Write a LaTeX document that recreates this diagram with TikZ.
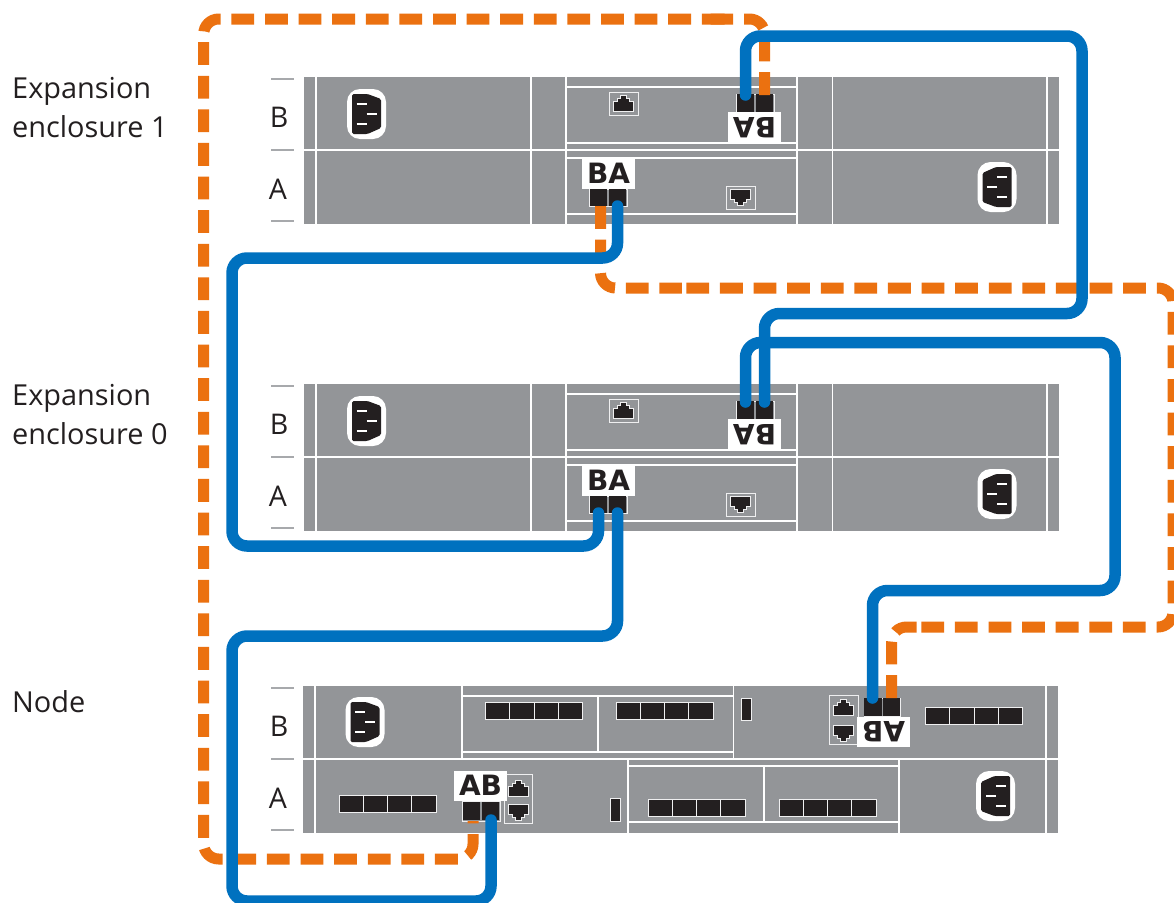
\documentclass[tikz,border=0pt]{standalone}
\usepackage{fontspec}
\setmainfont{Open Sans}
\newfontfamily\labfont{DejaVu Sans}[BoldFont={DejaVu Sans Bold}]
\definecolor{chassis}{HTML}{939598}
\definecolor{ink}{HTML}{231F20}
\definecolor{cableblue}{HTML}{0071BF}
\definecolor{cableorange}{HTML}{EB7110}
\definecolor{tickgray}{HTML}{A7A9AC}
\tikzset{
  x=1pt,y=-1pt,
  chassisbox/.style={fill=chassis,draw=none},
  frameline/.style={draw=white,line width=1.1pt},
  thinbox/.style={draw=white!85!chassis,line width=0.9pt},
  tickline/.style={draw=tickgray,line width=1.1pt},
  portcell/.style={fill=ink,draw=none,inner sep=0pt,minimum width=#1,minimum height=17.5pt},
  portcell/.default=17.5pt,
  tag/.style={fill=white,inner sep=0pt,minimum width=53pt,minimum height=30pt,text=ink,font=\labfont\bfseries\fontsize{28}{28}\selectfont},
  rowlabel/.style={text=ink,inner sep=0pt,font=\fontsize{28.5}{28.5}\selectfont},
  sidelabel/.style={text=ink,inner sep=0pt,align=left,anchor=west,font=\fontsize{28.9}{39}\selectfont},
  bluecable/.style={draw=cableblue,line width=11.5pt,rounded corners=15pt,line cap=round},
  orangecable/.style={draw=cableorange,line width=11pt,rounded corners=15pt,dash pattern=on 22.8pt off 10.8pt},
  plug/.pic={
    \fill[white,rounded corners=13pt] (-19.5,-25) rectangle (19.5,25);
    \fill[ink,rounded corners=1.5pt] (-14.5,-20) -- (1,-20) -- (14.5,-15) -- (14.5,14) -- (1,20) -- (-14.5,20) -- cycle;
    \draw[white,line width=2pt] (-10,-10) -- (0,-10) (0,0) -- (10,0) (-10,10) -- (0,10);
  },
  rjglyph/.pic={
    \draw[fill=ink,draw=white!85!chassis,line width=0.7pt] (-10,8) -- (-10,-2) -- (-6,-2) -- (-6,-5) -- (-3,-5) -- (-3,-8) -- (3,-8) -- (3,-5) -- (6,-5) -- (6,-2) -- (10,-2) -- (10,8) -- cycle;
  },
  rjsingle/.pic={
    \draw[thinbox] (-14.5,-11.5) rectangle (14.5,11.5);
    \pic[transform shape] {rjglyph};
  },
  quadport/.pic={
    \draw[draw=white!85!chassis,fill=ink,line width=1pt] (0,0) rectangle (97,17);
    \draw[draw=white!85!chassis,line width=1pt] (24.25,0) -- (24.25,17) (48.5,0) -- (48.5,17) (72.75,0) -- (72.75,17);
  },
}
% frame of an expansion enclosure; #1 = name prefix, #2 = vertical offset
\newcommand{\enclosure}[2]{%
\begin{scope}[shift={(0,#2)}]
  \fill[chassisbox] (303.5,77) rectangle (1059,224);
  \draw[frameline] (303.5,150) -- (1059,150)
    (316,77) -- (316,224) (531,77) -- (531,224) (566,77) -- (566,224)
    (797,77) -- (797,224) (832.5,77) -- (832.5,224) (1047,77) -- (1047,224)
    (566,87) -- (797,87) (566,143) -- (797,143) (566,158) -- (797,158) (566,214) -- (797,214);
  \draw[tickline] (271,79) -- (294,79) (271,150) -- (294,150) (271,221) -- (294,221);
  \node[rowlabel] (#1rowB) at (279,117) {B};
  \node[rowlabel] (#1rowA) at (278,189) {A};
  \pic at (366.5,114) {plug};
  \pic[rotate=180] at (997,187) {plug};
  \pic at (623.5,103.5) {rjsingle};
  \pic[rotate=180] at (740.5,197.5) {rjsingle};
  % upper module port pair
  \draw[thinbox] (736,94) rectangle (774,112);
  \node[portcell] (#1upL) at (745.5,103) {};
  \node[portcell] (#1upR) at (764.5,103) {};
  \node[tag,rotate=180] (#1upTag) at (754.5,127) {\raisebox{1pt}{BA}};
  % lower module port pair
  \draw[thinbox] (589,189) rectangle (627,206);
  \node[portcell] (#1loL) at (598.5,197.5) {};
  \node[portcell] (#1loR) at (617.5,197.5) {};
  \node[tag] (#1loTag) at (608.5,174) {\raisebox{1pt}{BA}};
  \coordinate (#1upLend) at (745.5,95);
  \coordinate (#1upRend) at (764.5,95);
  \coordinate (#1loLend) at (600.5,206);
  \coordinate (#1loLbl) at (598.5,206);
  \coordinate (#1loRend) at (617.5,206);
\end{scope}}
\begin{document}
\begin{tikzpicture}
\useasboundingbox (0,0) rectangle (1174,902);
\clip (0,0) rectangle (1174,902);
\fill[white] (0,0) rectangle (1174,902);
\enclosure{eone}{0}
\enclosure{ezero}{307}
% node enclosure
\fill[chassisbox] (303,686) rectangle (1058,833);
\draw[frameline] (303,759) -- (1058,759)
  (315,686) -- (315,833) (1046,686) -- (1046,833)
  (462,686) -- (462,759) (733.5,686) -- (733.5,759)
  (462,696) -- (733.5,696) (462,752) -- (733.5,752) (598,696) -- (598,752)
  (628,759) -- (628,833) (899,759) -- (899,833)
  (628,766) -- (899,766) (628,822) -- (899,822) (764,766) -- (764,822);
\draw[tickline] (271,688) -- (294,688) (271,759) -- (294,759) (271,830) -- (294,830);
\node[rowlabel] (nrowB) at (279,726) {B};
\node[rowlabel] (nrowA) at (278,798) {A};
\pic at (365,722) {plug};
\pic[rotate=180] at (995.5,796) {plug};
\pic at (485.5,702) {quadport};
\pic at (616,702) {quadport};
\pic at (925.5,707) {quadport};
\pic at (339,795) {quadport};
\pic at (648,799) {quadport};
\pic at (779,799) {quadport};
\draw[draw=white!85!chassis,fill=ink,line width=1pt] (741.5,698) rectangle (751.5,720.5);
\draw[draw=white!85!chassis,fill=ink,line width=1pt] (610,798.5) rectangle (620.5,821);
% double RJ45, upper module
\draw[thinbox] (829.5,695.5) rectangle (858,744);
\pic at (843.5,707.5) {rjglyph};
\pic[rotate=180] at (843.5,733) {rjglyph};
% double RJ45, lower module
\draw[thinbox] (504,774) rectangle (532.5,823);
\pic at (518,788) {rjglyph};
\pic[rotate=180] at (518,812) {rjglyph};
% node port pairs
\draw[thinbox] (864,698) rectangle (900.5,716);
\node[portcell] (nupL) at (873,707) {};
\node[portcell] (nupR) at (891.5,707) {};
\node[tag,rotate=180] (nupTag) at (883.5,731.5) {\raisebox{1pt}{AB}};
\draw[thinbox] (462.5,801) rectangle (500,821);
\node[portcell,minimum height=18pt] (nloL) at (471.5,811) {};
\node[portcell,minimum height=18pt] (nloR) at (490.5,811) {};
\node[tag] (nloTag) at (480.5,785.5) {\raisebox{1pt}{AB}};
\coordinate (nupLend) at (872.5,698);
\coordinate (nupRend) at (891.5,698);
\coordinate (nloLend) at (473,821);
\coordinate (nloRend) at (491,820);
% side labels
\node[sidelabel] (lab1) at (12,108) {Expansion\\enclosure 1};
\node[sidelabel] (lab0) at (12,415) {Expansion\\enclosure 0};
\node[sidelabel] (labn) at (12,702) {Node};
% orange cables (pieced as in the source, each with its own dash start)
\coordinate (topjoinA) at (710.5,19);
\coordinate (topjoinB) at (724.6,19);
\coordinate (midjoinA) at (681.9,288);
\coordinate (midjoinB) at (685.7,288);
\coordinate (lowjoinA) at (916.5,627);
\coordinate (lowjoinB) at (921.3,627);
\draw[orangecable] (eoneupRend) |- (topjoinA);
\draw[orangecable] (topjoinB) -| (203.7,859) -| (nloLend);
\draw[orangecable] (eoneloLend) |- (midjoinA);
\draw[orangecable] (lowjoinB) -| (1173,288) -- (midjoinB);
\draw[orangecable] (nupRend) |- (lowjoinA);
% blue cables
\draw[bluecable] (eoneupLend) |- (1082,36) |- (764.5,313.5) -- (ezeroupRend);
\draw[bluecable] (eoneloRend) |- (232,258) |- (598.5,546) -- (ezeroloLbl);
\draw[bluecable] (ezeroupLend) |- (1115,342.5) |- (872.5,590.5) -- (nupLend);
\draw[bluecable] (ezeroloRend) |- (232,636) |- (491,901) -- (nloRend);
\end{tikzpicture}
\end{document}
